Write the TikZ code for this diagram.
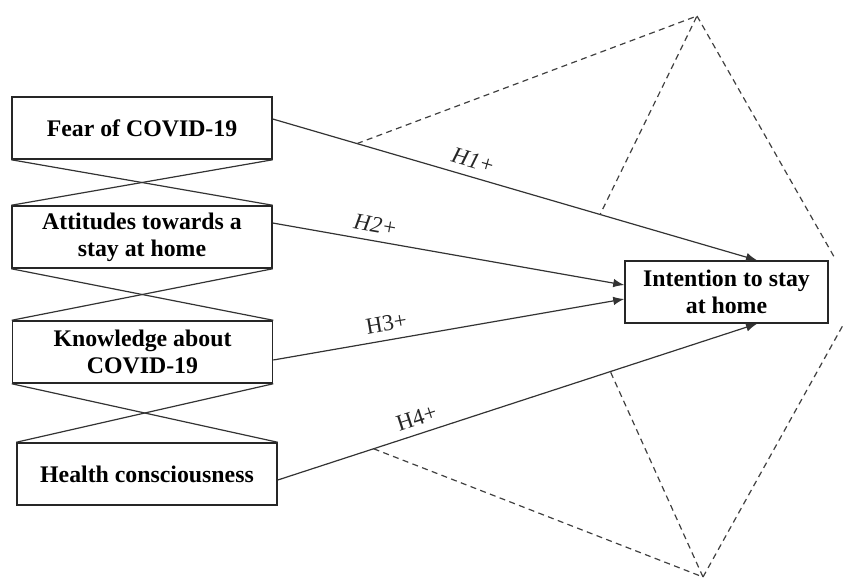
\documentclass[tikz,border=0pt]{standalone}
\usepackage{fontspec}
\setmainfont{Liberation Serif}
\usetikzlibrary{arrows.meta}

\begin{document}
\begin{tikzpicture}[x=0.5pt, y=-0.5pt,
    factor/.style={draw=black!85, line width=0.75pt, minimum width=130pt, minimum height=31pt,
        inner sep=0pt, align=center, font=\fontsize{11.9}{13.5}\selectfont\bfseries},
    hyp/.style={draw=black!80, line width=0.6pt, -{Latex[length=5.5pt, width=4.3pt]}},
    cross/.style={draw=black!80, line width=0.6pt},
    moder/.style={draw=black!75, line width=0.6pt, dash pattern=on 3pt off 2.2pt},
    hlab/.style={font=\fontsize{11.5}{13}\selectfont, inner sep=4pt, black!85}]
                \useasboundingbox (0,0) rectangle (850,580);

                % the four factors and the outcome
                \node[factor] (fear) at (142,128) {Fear of COVID-19};
                \node[factor] (att) at (142,237) {Attitudes towards a\\stay at home};
                \node[factor] (know) at (142.5,352) {Knowledge about\\COVID-19};
                \node[factor] (health) at (147,474) {Health consciousness};
                \node[factor, minimum width=101.5pt] (int) at (726.5,292) {Intention to stay\\at home};

                % crossed links between the factors
                \draw[cross] (fear.south west) -- (att.north east);
                \draw[cross] (fear.south east) -- (att.north west);
                \draw[cross] (att.south west) -- (know.north east);
                \draw[cross] (att.south east) -- (know.north west);
                \draw[cross] (know.south west) -- (health.north east);
                \draw[cross] (know.south east) -- (health.north west);

                % hypotheses
                \draw[hyp] ([yshift=4.5pt]fear.east) -- coordinate[pos=0.174] (d1) coordinate[pos=0.676] (d2)
                    node[hlab, pos=0.405, above, sloped] {\textit{H1+}} ([xshift=15.25pt]int.north);
                \draw[hyp] ([yshift=7pt]att.east) -- node[hlab, pos=0.285, above, sloped] {\textit{H2+}} ([yshift=3.5pt]int.west);
                \draw[hyp] ([yshift=-4pt]know.east) -- node[hlab, pos=0.33, above, sloped] {H3+} ([yshift=-3.5pt]int.west);
                \draw[hyp] ([yshift=-3pt]health.east) -- coordinate[pos=0.2] (d3) coordinate[pos=0.694] (d4)
                    node[hlab, pos=0.3, above, sloped] {H4+} ([xshift=15.25pt]int.south);

                % dashed moderating links
                \coordinate (apexT) at (697,16);
                \coordinate (apexB) at (703,577);
                \draw[moder] (d1) -- (apexT) -- (d2);
                \draw[moder] (apexT) -- ([xshift=2.5pt, yshift=2pt]int.north east);
                \draw[moder] (d3) -- (apexB) -- (d4);
                \draw[moder] (apexB) -- ([xshift=7.5pt]int.south east);

            \end{tikzpicture}
\end{document}
